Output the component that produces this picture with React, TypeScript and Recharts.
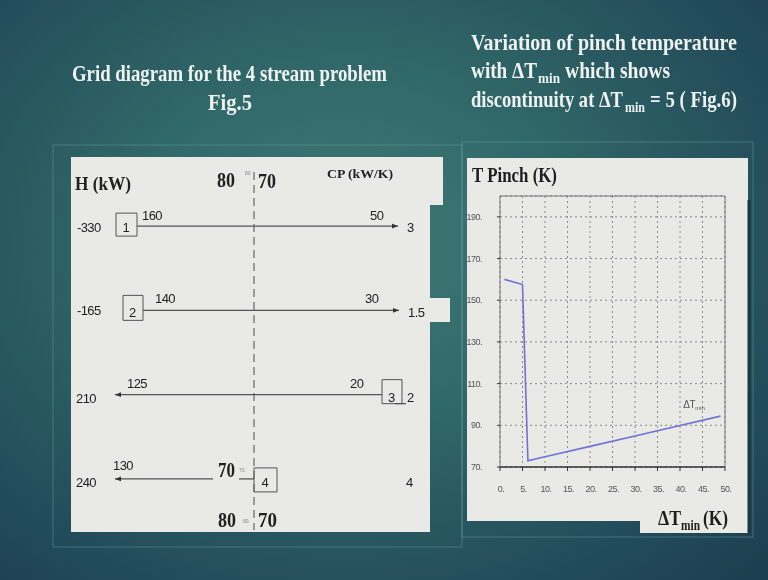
import React from 'react';
import {
  LineChart, Line, XAxis, YAxis, CartesianGrid, ReferenceLine, ReferenceDot,
  ReferenceArea, ComposedChart, Scatter,
} from 'recharts';

// ---------- Fig.6: pinch temperature vs ΔTmin ----------
const dTmin = [1, 5, 6.2, 10, 20, 30, 40, 49];
const tPinch = [160, 157.5, 73, 74.9, 79.9, 84.9, 89.9, 94.4];
const xTicks = [0, 5, 10, 15, 20, 25, 30, 35, 40, 45, 50];
const yTicks = [70, 90, 110, 130, 150, 170, 190];

// ---------- Fig.5: grid diagram (4 streams) ----------
const streamIds = [1, 2, 3, 4];
const streamH = [-330, -165, 210, 240];
const streamCP = ['3', '1.5', '2', '4'];
const streamLeftT = [160, 140, 125, 130];
const streamRightT = [50, 30, 20, 70];
const pinchHot = 80;
const pinchCold = 70;

// ---------- layout (schematic positions inside the grid panel, px) ----------
const serif = '"Liberation Serif", "Times New Roman", serif';
const sans = '"Liberation Sans", Arial, sans-serif';
const ROW_MIN = 0.18;
const ROW_MAX = 4.63;
const GRID_W = 380;
const GRID_H = 375;
const rowPx = GRID_H / (ROW_MAX - ROW_MIN);
const off = (px: number) => px / rowPx;
const PINCH_X = 183;

const streamLayout = [
  { box: [45, 66], line: [66, 327], hX: 6, hDy: 6, lX: 71, lDy: -6, rX: 299, rDy: -6, cpX: 336, cpDy: 6, bTop: -13, bBot: 10, bDy: 6 },
  { box: [52, 72], line: [72, 328], hX: 6, hDy: 5, lX: 84, lDy: -7, rX: 294, rDy: -7, cpX: 337, cpDy: 7, bTop: -15, bBot: 10, bDy: 6.5 },
  { box: [311, 331], line: [311, 44], hX: 5, hDy: 8, lX: 56, lDy: -7, rX: 279, rDy: -7, cpX: 336, cpDy: 7, bTop: -15, bBot: 9, bDy: 7 },
  { box: [183, 206], line: [142, 44], hX: 5, hDy: 8, lX: 42, lDy: -9, rX: 147, rDy: -2, cpX: 335, cpDy: 8, bTop: -11, bBot: 13, bDy: 8 },
];

const arrowLine = (p: any) => {
  const { x1, y1, x2, y2 } = p;
  const dir = Math.sign(x2 - x1) || 1;
  return (
    <g>
      <line x1={x1} y1={y1} x2={x2} y2={y2} stroke="#555" strokeWidth={1.3} />
      <polygon points={`${x2},${y2} ${x2 - 6 * dir},${y2 - 2.3} ${x2 - 6 * dir},${y2 + 2.3}`} fill="#333" />
    </g>
  );
};

const plainLine = (p: any) => (
  <line x1={p.x1} y1={p.y1} x2={p.x2} y2={p.y2} stroke="#555" strokeWidth={1.3} />
);

const txt = (key: string, x: number, r: number, dy: number, content: React.ReactNode, style: any) => (
  <ReferenceDot
    key={key}
    x={x}
    y={r}
    r={0}
    ifOverflow="visible"
    shape={(p: any) => (
      <text x={p.cx} y={p.cy + dy} {...style}>{content}</text>
    )}
  />
);

const numStyle = { fontFamily: sans, fontSize: 13, fill: '#222', letterSpacing: -0.6 };
const bigSerif = { fontFamily: serif, fontWeight: 'bold', fontSize: 21, fill: '#222' };
const tinyStyle = { fontFamily: sans, fontSize: 5, fill: '#888' };

function GridDiagram() {
  const els: React.ReactNode[] = [];
  // header
  els.push(txt('hkw', 4, ROW_MIN, 33, 'H (kW)', { ...bigSerif, fontSize: 18, textLength: 56, lengthAdjust: 'spacingAndGlyphs' }));
  els.push(txt('h80', 146, ROW_MIN, 30, String(pinchHot), { ...bigSerif, fontSize: 20, textLength: 18, lengthAdjust: 'spacingAndGlyphs' }));
  els.push(txt('h80t', 174, ROW_MIN, 18, String(pinchHot), tinyStyle));
  els.push(txt('h70', 187, ROW_MIN, 31, String(pinchCold), { ...bigSerif, fontSize: 20, textLength: 18, lengthAdjust: 'spacingAndGlyphs' }));
  els.push(txt('cp', 256, ROW_MIN, 21, 'CP (kW/K)', { fontFamily: serif, fontWeight: 'bold', fontSize: 12, fill: '#222', textLength: 66, lengthAdjust: 'spacingAndGlyphs' }));
  // footer
  els.push(txt('f80', 147, ROW_MIN, 370, String(pinchHot), { ...bigSerif, textLength: 18, lengthAdjust: 'spacingAndGlyphs' }));
  els.push(txt('f80t', 172, ROW_MIN, 366, `${pinchHot}.`, tinyStyle));
  els.push(txt('f70', 187, ROW_MIN, 370, String(pinchCold), { ...bigSerif, textLength: 19, lengthAdjust: 'spacingAndGlyphs' }));

  streamIds.forEach((id, i) => {
    const L = streamLayout[i];
    const r = id;
    els.push(
      <ReferenceArea key={`box${id}`} x1={L.box[0]} x2={L.box[1]} y1={r + off(L.bTop)} y2={r + off(L.bBot)}
        fill="none" stroke="#555" strokeWidth={1} fillOpacity={0} ifOverflow="visible" />
    );
    els.push(
      <ReferenceLine key={`ln${id}`} segment={[{ x: L.line[0], y: r }, { x: L.line[1], y: r }]} ifOverflow="visible" shape={arrowLine} />
    );
    els.push(txt(`b${id}`, (L.box[0] + L.box[1]) / 2 - 4, r, L.bDy, String(id), numStyle));
    els.push(txt(`h${id}`, L.hX, r, L.hDy, String(streamH[i]), numStyle));
    els.push(txt(`l${id}`, L.lX, r, L.lDy, String(streamLeftT[i]), numStyle));
    els.push(txt(`cp${id}`, L.cpX, r, L.cpDy, streamCP[i], numStyle));
    if (id === 4) {
      els.push(txt(`r${id}`, L.rX, r, L.rDy, String(streamRightT[i]), { ...bigSerif, textLength: 17, lengthAdjust: 'spacingAndGlyphs' }));
      els.push(txt(`rt${id}`, 168, r, -7, `${streamRightT[i]}.`, tinyStyle));
      els.push(
        <ReferenceLine key="seg4" segment={[{ x: 168, y: r }, { x: PINCH_X, y: r }]} ifOverflow="visible" shape={plainLine} />
      );
    } else {
      els.push(txt(`r${id}`, L.rX, r, L.rDy, String(streamRightT[i]), numStyle));
    }
  });
  // small tick next to box 3
  els.push(
    <ReferenceLine key="tick3" segment={[{ x: 324, y: 3 + off(9) }, { x: 335, y: 3 + off(9) }]} ifOverflow="visible" shape={plainLine} />
  );

  return (
    <ComposedChart width={GRID_W} height={GRID_H} margin={{ top: 0, right: 0, bottom: 0, left: 0 }}
      data={streamIds.map((id) => ({ x: PINCH_X, y: id }))}>
      <XAxis type="number" dataKey="x" domain={[0, GRID_W]} hide allowDataOverflow />
      <YAxis type="number" dataKey="y" domain={[ROW_MIN, ROW_MAX]} reversed hide allowDataOverflow />
      <ReferenceLine
        segment={[{ x: PINCH_X, y: ROW_MIN + off(15) }, { x: PINCH_X, y: ROW_MIN + off(373) }]}
        stroke="#666" strokeWidth={1.2} strokeDasharray="8 5" ifOverflow="visible"
      />
      <Scatter dataKey="y" isAnimationActive={false} shape={() => <g />} />
      {els}
    </ComposedChart>
  );
}

const tickFont = { fontFamily: sans, fontSize: 9, fill: '#555', letterSpacing: -0.5 };

const YTick = (p: any) => (
  <text x={15} y={p.y + 3} textAnchor="end" {...tickFont}>{`${p.payload.value}.`}</text>
);
const XTick = (p: any) => (
  <text x={p.x + 1} y={334} textAnchor="middle" {...tickFont}>{`${p.payload.value}.`}</text>
);

function PinchChart() {
  const data = dTmin.map((x, i) => ({ x, t: tPinch[i] }));
  return (
    <LineChart width={281} height={375} data={data} margin={{ top: 38, right: 23, left: 0, bottom: 0 }}>
      <CartesianGrid stroke="#8a8a8a" strokeDasharray="2 3" />
      <XAxis dataKey="x" type="number" domain={[0, 50]} ticks={xTicks} interval={0} height={66}
        axisLine={{ stroke: '#333', strokeWidth: 1.6 }} tickLine={{ stroke: '#333' }} tickSize={4} tick={XTick} allowDataOverflow />
      <YAxis type="number" domain={[70, 200]} ticks={yTicks} interval={0} width={33}
        axisLine={{ stroke: '#777' }} tickLine={{ stroke: '#333' }} tickSize={3} tick={YTick} allowDataOverflow />
      <ReferenceLine y={200} stroke="#777" strokeWidth={1} />
      <ReferenceLine x={50} stroke="#777" strokeWidth={1} />
      <Line dataKey="t" type="linear" stroke="#7171d6" strokeWidth={1.6} dot={false} isAnimationActive={false} />
      <ReferenceDot x={40.7} y={98.5} r={0} ifOverflow="visible"
        shape={(p: any) => (
          <g>
            <text x={p.cx} y={p.cy} fontFamily={sans} fontSize={10} fill="#555" letterSpacing={-0.4}>ΔT</text>
            <text x={p.cx + 12} y={p.cy + 2.5} fontFamily={sans} fontSize={6} fill="#555">min</text>
          </g>
        )} />
    </LineChart>
  );
}

type PieceProps = { x: number; y: number; w: number; size: number; sy?: number; fill?: string; children: React.ReactNode };
const Piece = ({ x, y, w, size, sy = 1.15, fill = '#eef2f1', children }: PieceProps) => (
  <text
    transform={`translate(${x},${y}) scale(1,${sy})`}
    x={0}
    y={0}
    fontFamily={serif}
    fontWeight="bold"
    fontSize={size}
    fill={fill}
    textLength={w}
    lengthAdjust="spacingAndGlyphs"
  >
    {children}
  </text>
);

export default function App() {
  return (
    <div style={{
      position: 'fixed', left: 0, top: 0, width: 768, height: 580, overflow: 'hidden',
      background: 'radial-gradient(ellipse at 45% 42%, #3f7b76 0%, #306667 40%, #234d5a 75%, #1c3e50 100%)',
    }}>
      <svg width={768} height={580} style={{ position: 'absolute', left: 0, top: 0 }}>
        <rect x={53} y={145} width={409} height={402} fill="none" stroke="#6aa2a2" strokeOpacity={0.45} />
        <rect x={462} y={142} width={291} height={395} fill="none" stroke="#6aa2a2" strokeOpacity={0.45} />
        <polygon points="71,157 443,157 443,205 430,205 430,298 450,298 450,322 430,322 430,532 71,532" fill="#e9e9e6" />
        <polygon points="467,158 748,158 748,533 640,533 640,521 467,521" fill="#e9e9e6" />
        <line x1={749} y1={200} x2={749} y2={533} stroke="#1a3547" strokeWidth={3} />

        <Piece x={72} y={81} w={315} size={19.5}>Grid diagram for the 4 stream problem</Piece>
        <Piece x={208} y={110} w={44} size={20}>Fig.5</Piece>

        <Piece x={471} y={50} w={266} size={19.5}>Variation of pinch temperature</Piece>
        <Piece x={471} y={78} w={66} size={19.5}>with ΔT</Piece>
        <Piece x={538} y={83} w={22} size={12.5}>min</Piece>
        <Piece x={565} y={78} w={105} size={19.5}>which shows</Piece>
        <Piece x={471} y={107} w={152} size={17} sy={1.32}>discontinuity at ΔT</Piece>
        <Piece x={625} y={112} w={20} size={12}>min</Piece>
        <Piece x={650} y={107} w={87} size={19.5}>= 5 ( Fig.6)</Piece>

        <Piece x={472} y={182} w={85} size={17.5} sy={1.2} fill="#1e1e1e">T Pinch (K)</Piece>
        <Piece x={658} y={525} w={23} size={17} sy={1.2} fill="#1e1e1e">ΔT</Piece>
        <Piece x={681} y={530} w={19} size={11.5} sy={1.2} fill="#1e1e1e">min</Piece>
        <Piece x={703} y={525} w={25} size={17} sy={1.2} fill="#1e1e1e">(K)</Piece>
      </svg>
      <div style={{ position: 'absolute', left: 71, top: 157, width: GRID_W, height: GRID_H }}>
        <GridDiagram />
      </div>
      <div style={{ position: 'absolute', left: 467, top: 158, width: 281, height: 375 }}>
        <PinchChart />
      </div>
    </div>
  );
}
